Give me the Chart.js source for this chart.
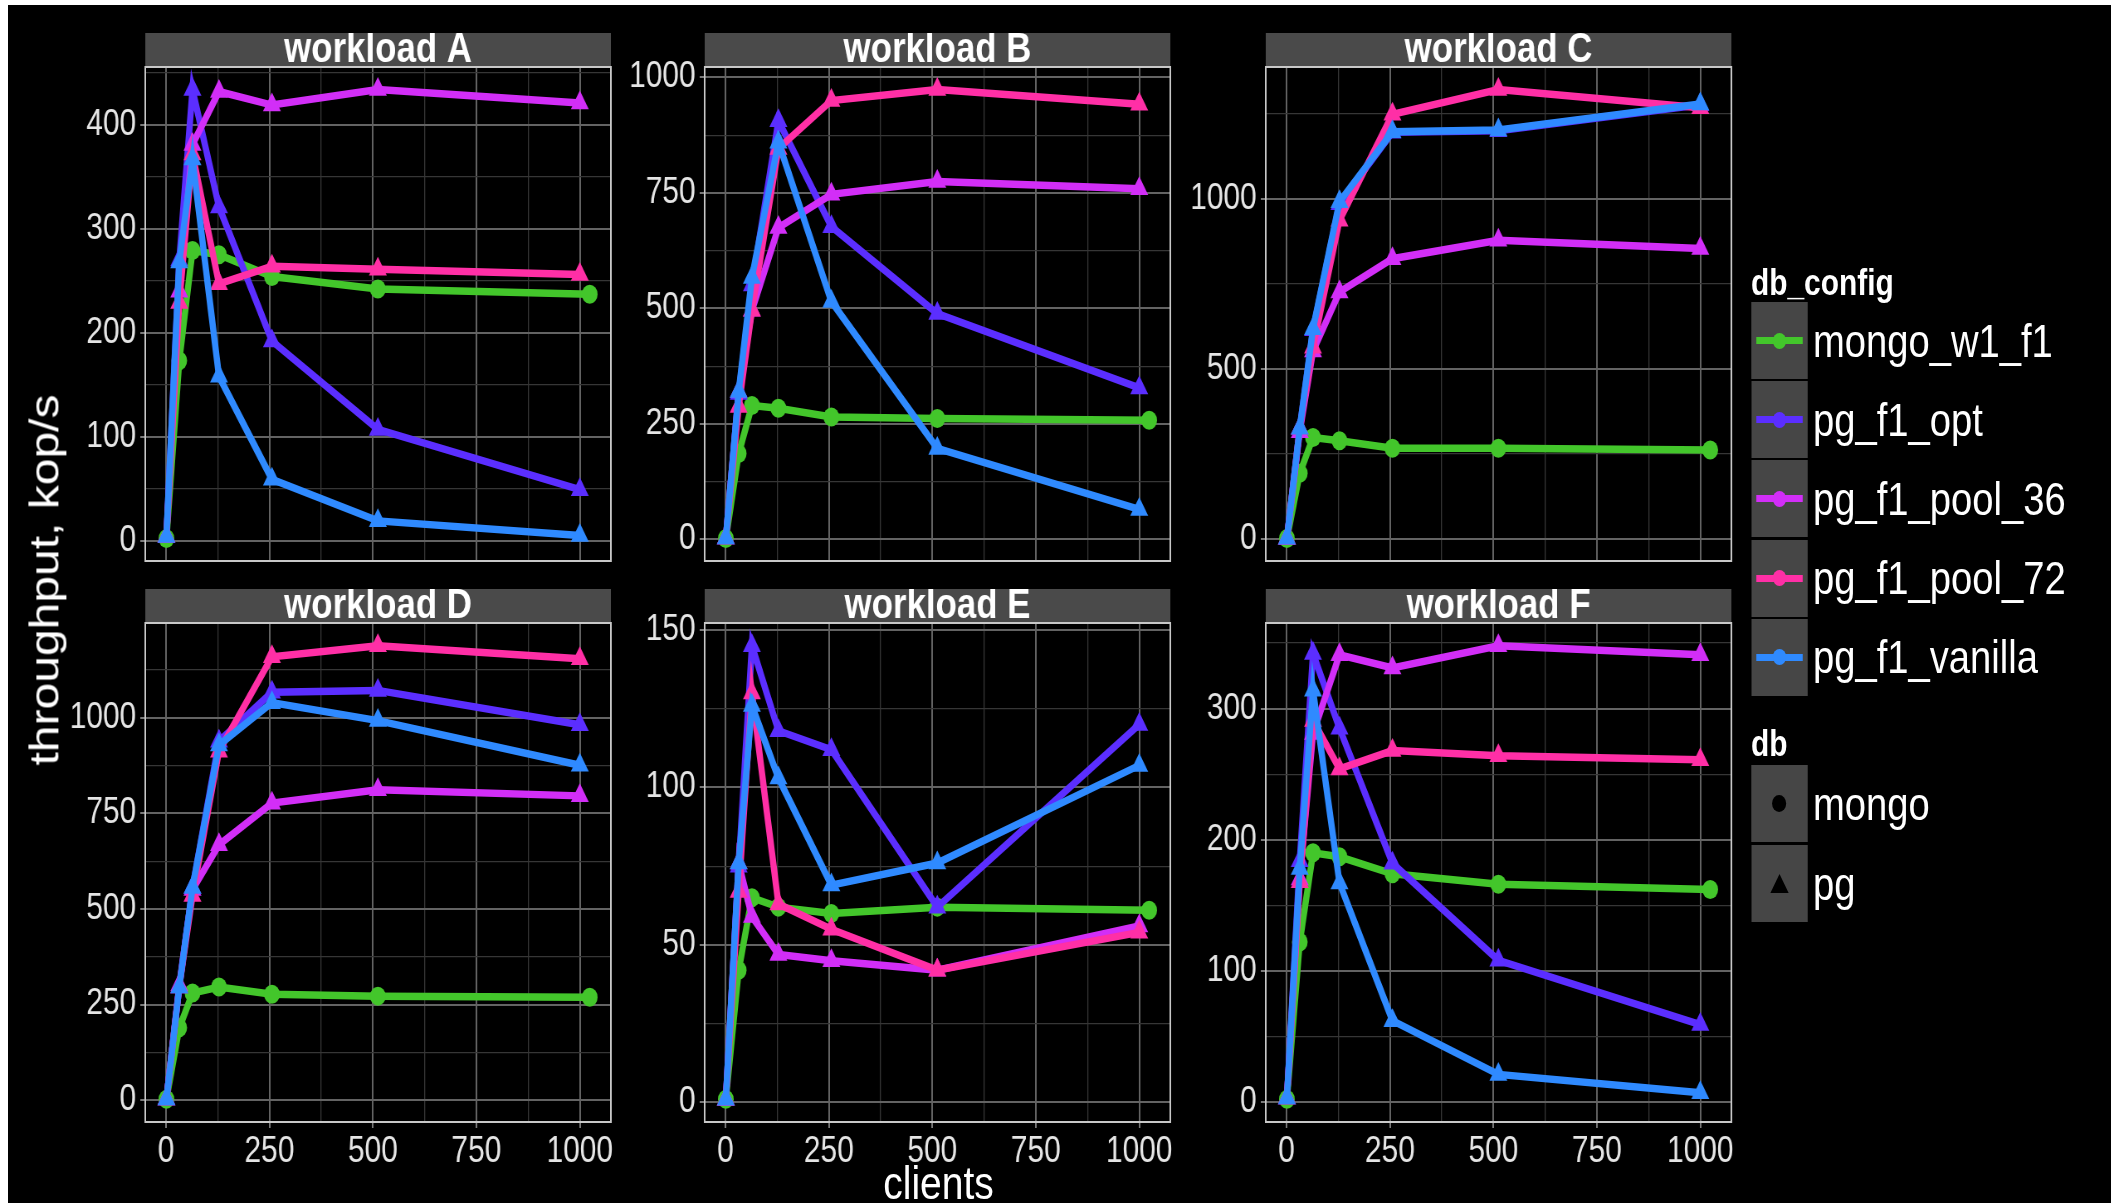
<!DOCTYPE html>
<html>
<head>
<meta charset="utf-8">
<title>YCSB throughput by clients</title>
<script src="https://cdn.jsdelivr.net/npm/chart.js@4.4.1/dist/chart.umd.min.js"></script>
<style>
  html, body { margin: 0; padding: 0; width: 2111px; height: 1203px; overflow: hidden; background: #fff; }
  #bg { position: absolute; left: 8px; top: 5px; right: 0; bottom: 0; background: #000; }
  /* the whole figure is a bit squeezed horizontally, like the original export */
  #stage { position: absolute; left: 0; top: 0; width: 2544px; height: 1203px;
           transform: scaleX(0.83); transform-origin: 0 0;
           font-family: 'Liberation Sans', Arial, Helvetica, sans-serif; color: #fff; }
  #stage canvas { position: absolute; }
  .txt { position: absolute; white-space: nowrap; line-height: 1; }
</style>
</head>
<body>
<div id="bg"></div>
<div id="stage"></div>
<script>
// ------ DATA ------
const workloads = ['workload A', 'workload B', 'workload C', 'workload D', 'workload E', 'workload F'];
const clientsPg    = [1, 32, 64, 128, 256, 512, 1000];
const clientsMongo = [1, 32, 64, 128, 256, 512, 1024];
const xStep = 250;
const yStep = [100, 250, 500, 250, 50, 100];   // major y tick step per workload

// one row per workload (A..F), kop/s
const mongo_w1_f1 = [
  [2, 173, 279, 275, 254, 242, 237],
  [2, 186, 290, 284, 265, 262, 258],
  [2, 194, 299, 289, 267, 267, 262],
  [2, 189, 280, 296, 277, 272, 269],
  [1, 42, 65, 62, 60, 62, 61],
  [2, 122, 190, 187, 174, 166, 162]
];
const pg_f1_opt = [
  [4, 270, 434, 321, 192, 107, 49],
  [3, 316, 551, 906, 677, 489, 328],
  [3, 326, 615, 985, 1195, 1200, 1276],
  [3, 296, 556, 939, 1067, 1072, 982],
  [1, 75, 145, 118, 112, 62, 120],
  [3, 184, 342, 285, 182, 108, 59]
];
const pg_f1_pool_36 = [
  [4, 240, 381, 432, 419, 434, 421],
  [3, 320, 496, 675, 747, 775, 759],
  [3, 316, 553, 726, 824, 878, 854],
  [3, 301, 551, 668, 777, 812, 796],
  [1, 76, 59, 47, 45, 42, 56],
  [3, 170, 281, 341, 331, 348, 341]
];
const pg_f1_pool_72 = [
  [4, 229, 372, 247, 264, 261, 256],
  [3, 288, 496, 846, 950, 974, 942],
  [3, 326, 564, 937, 1248, 1321, 1267],
  [3, 296, 535, 913, 1160, 1189, 1155],
  [1, 67, 130, 63, 55, 42, 54],
  [3, 168, 291, 254, 268, 264, 261]
];
const pg_f1_vanilla = [
  [4, 268, 367, 158, 59, 19, 5],
  [3, 320, 567, 860, 515, 197, 65],
  [3, 326, 618, 991, 1197, 1202, 1278],
  [3, 296, 556, 929, 1040, 993, 876],
  [1, 76, 126, 103, 69, 76, 107],
  [3, 178, 314, 167, 62, 21, 7]
];

const configs = ['mongo_w1_f1', 'pg_f1_opt', 'pg_f1_pool_36', 'pg_f1_pool_72', 'pg_f1_vanilla'];
const dbs = ['mongo', 'pg'];
const SERIES = { mongo_w1_f1, pg_f1_opt, pg_f1_pool_36, pg_f1_pool_72, pg_f1_vanilla };

// ------ STYLE ------
const COLORS = {
  mongo_w1_f1:   '#43c62b',
  pg_f1_opt:     '#5b2eff',
  pg_f1_pool_36: '#d22ef7',
  pg_f1_pool_72: '#ff2fa6',
  pg_f1_vanilla: '#2f8aff'
};
const GRID_MAJOR = '#636363';
const GRID_MINOR = '#363636';
const TICK_COLOR = '#7a7a7a';
const BORDER     = '#c8c8c8';
const STRIP_FILL = '#4a4a4a';
const KEY_FILL   = '#464646';

// ------ LAYOUT (final picture px; x gets divided by SX for the stage) ------
const SX = 0.83;
const v = px => px / SX;
const PANEL_LEFT  = [145, 705, 1266];
const PANEL_W     = 466;
const STRIP_TOP   = [33, 589];
const STRIP_H     = 34;
const PLOT_BOTTOM = [561, 1122];
const Y_AXIS_W = 110, RIGHT_PAD = 40;

Chart.defaults.font.family = "'Liberation Sans', Arial, Helvetica, sans-serif";
Chart.defaults.color = '#e5e5e5';

const stage = document.getElementById('stage');
const isMajor = (val, step) => Math.abs(val / step - Math.round(val / step)) < 1e-6;

// ticks every half step -> minor grid lines, labels only on the major ones
function halfStepTicks(step) {
  return scale => {
    const minor = step / 2, out = [];
    for (let t = Math.ceil(scale.min / minor) * minor; t <= scale.max + 1e-9; t += minor) out.push({ value: t + 0 });
    scale.ticks = out;
  };
}

function gridOpts(step) {
  return {
    color:     c => (c.tick && isMajor(c.tick.value, step)) ? GRID_MAJOR : GRID_MINOR,
    lineWidth: c => (c.tick && isMajor(c.tick.value, step)) ? 2 : 1.3,
    tickColor: c => (c.tick && isMajor(c.tick.value, step)) ? TICK_COLOR : 'rgba(0,0,0,0)',
    tickLength: 6
  };
}

const stripPlugin = {
  id: 'strip',
  beforeDraw(chart) {
    const t = chart.titleBlock;
    if (!t) return;
    const ctx = chart.ctx;
    ctx.save();
    ctx.fillStyle = STRIP_FILL;
    ctx.fillRect(t.left, t.top, t.width, t.height);
    ctx.restore();
  },
  afterDatasetsDraw(chart) {
    const a = chart.chartArea, ctx = chart.ctx;
    ctx.save();
    ctx.strokeStyle = BORDER;
    ctx.lineWidth = 2;
    ctx.strokeRect(a.left, a.top, a.right - a.left, a.bottom - a.top);
    ctx.restore();
  }
};

function padRange(vals) {
  const lo = Math.min(...vals), hi = Math.max(...vals), p = (hi - lo) * 0.05;
  return [lo - p, hi + p];
}

// ------ PANELS ------
function makePanel(i) {
  const col = i % 3, row = Math.floor(i / 3);
  const plotL = Math.round(v(PANEL_LEFT[col]));
  const plotW = Math.round(v(PANEL_W));
  const plotH = PLOT_BOTTOM[row] - STRIP_TOP[row] - STRIP_H;
  const xh = row ? 72 : 24;

  const canvas = document.createElement('canvas');
  canvas.width = Y_AXIS_W + plotW + RIGHT_PAD;
  canvas.height = STRIP_H + plotH + xh;
  canvas.style.left = (plotL - Y_AXIS_W) + 'px';
  canvas.style.top = STRIP_TOP[row] + 'px';
  stage.appendChild(canvas);

  // draw order: vanilla ends up on top, like the original
  const drawOrder = configs.slice().reverse();
  const datasets = drawOrder.map(name => {
    const mongo = name.startsWith('mongo');
    const xs = mongo ? clientsMongo : clientsPg;
    const vals = SERIES[name][i];
    return {
      label: name,
      data: xs.map((x, k) => ({ x, y: vals[k] })),
      borderColor: COLORS[name],
      backgroundColor: COLORS[name],
      pointBackgroundColor: COLORS[name],
      borderWidth: 7.5,
      pointStyle: mongo ? 'circle' : 'triangle',
      pointRadius: mongo ? 9.5 : 12.5,
      pointBorderWidth: 0,
      tension: 0
    };
  });

  const yr = padRange(configs.flatMap(n => SERIES[n][i]));
  const xr = padRange(clientsPg.concat(clientsMongo));
  const ys = yStep[i];

  new Chart(canvas, {
    type: 'line',
    data: { datasets },
    plugins: [stripPlugin],
    options: {
      responsive: false,
      animation: false,
      events: [],
      layout: { padding: { left: 0, right: RIGHT_PAD, top: 0, bottom: 0 } },
      plugins: {
        legend: { display: false },
        tooltip: { enabled: false },
        title: {
          display: true,
          text: workloads[i],
          fullSize: false,
          color: '#ffffff',
          padding: 0,
          font: { size: 42, weight: 'bold', lineHeight: STRIP_H + 'px' }
        }
      },
      scales: {
        x: {
          type: 'linear',
          bounds: 'data',
          min: xr[0], max: xr[1],
          afterBuildTicks: halfStepTicks(xStep),
          afterFit: s => { s.height = xh; },
          grid: Object.assign(gridOpts(xStep), { drawTicks: row === 1 }),
          border: { display: false },
          ticks: {
            display: row === 1,
            autoSkip: false, maxRotation: 0, minRotation: 0,
            padding: 2,
            color: '#e5e5e5',
            font: { size: 36 },
            callback: val => isMajor(val, xStep) ? String(val) : ''
          }
        },
        y: {
          type: 'linear',
          bounds: 'data',
          min: yr[0], max: yr[1],
          afterBuildTicks: halfStepTicks(ys),
          afterFit: s => { s.width = Y_AXIS_W; },
          grid: gridOpts(ys),
          border: { display: false },
          ticks: {
            autoSkip: false,
            padding: 5,
            color: '#e5e5e5',
            font: { size: 36, lineHeight: 1 },
            callback: val => isMajor(val, ys) ? String(val) : ''
          }
        }
      }
    }
  });
}

workloads.forEach((w, i) => makePanel(i));

// ------ AXIS TITLES ------
function addText(text, css) {
  const d = document.createElement('div');
  d.className = 'txt';
  d.textContent = text;
  Object.assign(d.style, css);
  stage.appendChild(d);
  return d;
}

addText('clients', {
  left: v((PANEL_LEFT[0] + PANEL_LEFT[2] + PANEL_W) / 2) + 'px', top: '1159px',
  fontSize: '47px', transform: 'translateX(-50%)'
});
addText('throughput, kop/s', {
  left: v(45) + 'px', top: '580px',
  fontSize: '48px', transform: 'translate(-50%, -50%) rotate(-90deg)'
});

// ------ LEGEND ------
const LEG_X = v(1751), KEY_W = v(57), KEY_H = 77, KEY_STEP = 79.2;
const LABEL_X = v(1813);

function keyBox(top) {
  const d = document.createElement('div');
  Object.assign(d.style, { position: 'absolute', left: LEG_X + 'px', top: top + 'px',
    width: KEY_W + 'px', height: KEY_H + 'px', background: KEY_FILL });
  stage.appendChild(d);
  return d;
}
function inner(parent, css) {
  const d = document.createElement('div');
  Object.assign(d.style, { position: 'absolute' }, css);
  parent.appendChild(d);
  return d;
}

addText('db_config', { left: LEG_X + 'px', top: (283 - 18) + 'px', fontSize: '36px', fontWeight: 'bold' });
configs.forEach((name, k) => {
  const top = 302 + k * KEY_STEP;
  const box = keyBox(top);
  inner(box, { left: '6px', width: (KEY_W - 12) + 'px', top: (KEY_H / 2 - 3.5) + 'px', height: '7px', background: COLORS[name] });
  inner(box, { left: (KEY_W / 2 - 8) + 'px', top: (KEY_H / 2 - 8) + 'px', width: '16px', height: '16px',
    borderRadius: '50%', background: COLORS[name] });
  addText(name, { left: LABEL_X + 'px', top: (top + KEY_H / 2 - 23) + 'px', fontSize: '46px' });
});

addText('db', { left: LEG_X + 'px', top: (744 - 18) + 'px', fontSize: '36px', fontWeight: 'bold' });
dbs.forEach((name, k) => {
  const top = 765 + k * 80;
  const box = keyBox(top);
  if (name === 'mongo') {
    inner(box, { left: (KEY_W / 2 - 8.5) + 'px', top: (KEY_H / 2 - 8.5) + 'px', width: '17px', height: '17px',
      borderRadius: '50%', background: '#000' });
  } else {
    inner(box, { left: (KEY_W / 2 - 11) + 'px', top: (KEY_H / 2 - 10) + 'px', width: 0, height: 0,
      borderLeft: '11px solid transparent', borderRight: '11px solid transparent', borderBottom: '19px solid #000' });
  }
  addText(name, { left: LABEL_X + 'px', top: (top + KEY_H / 2 - 23) + 'px', fontSize: '46px' });
});
</script>
</body>
</html>
